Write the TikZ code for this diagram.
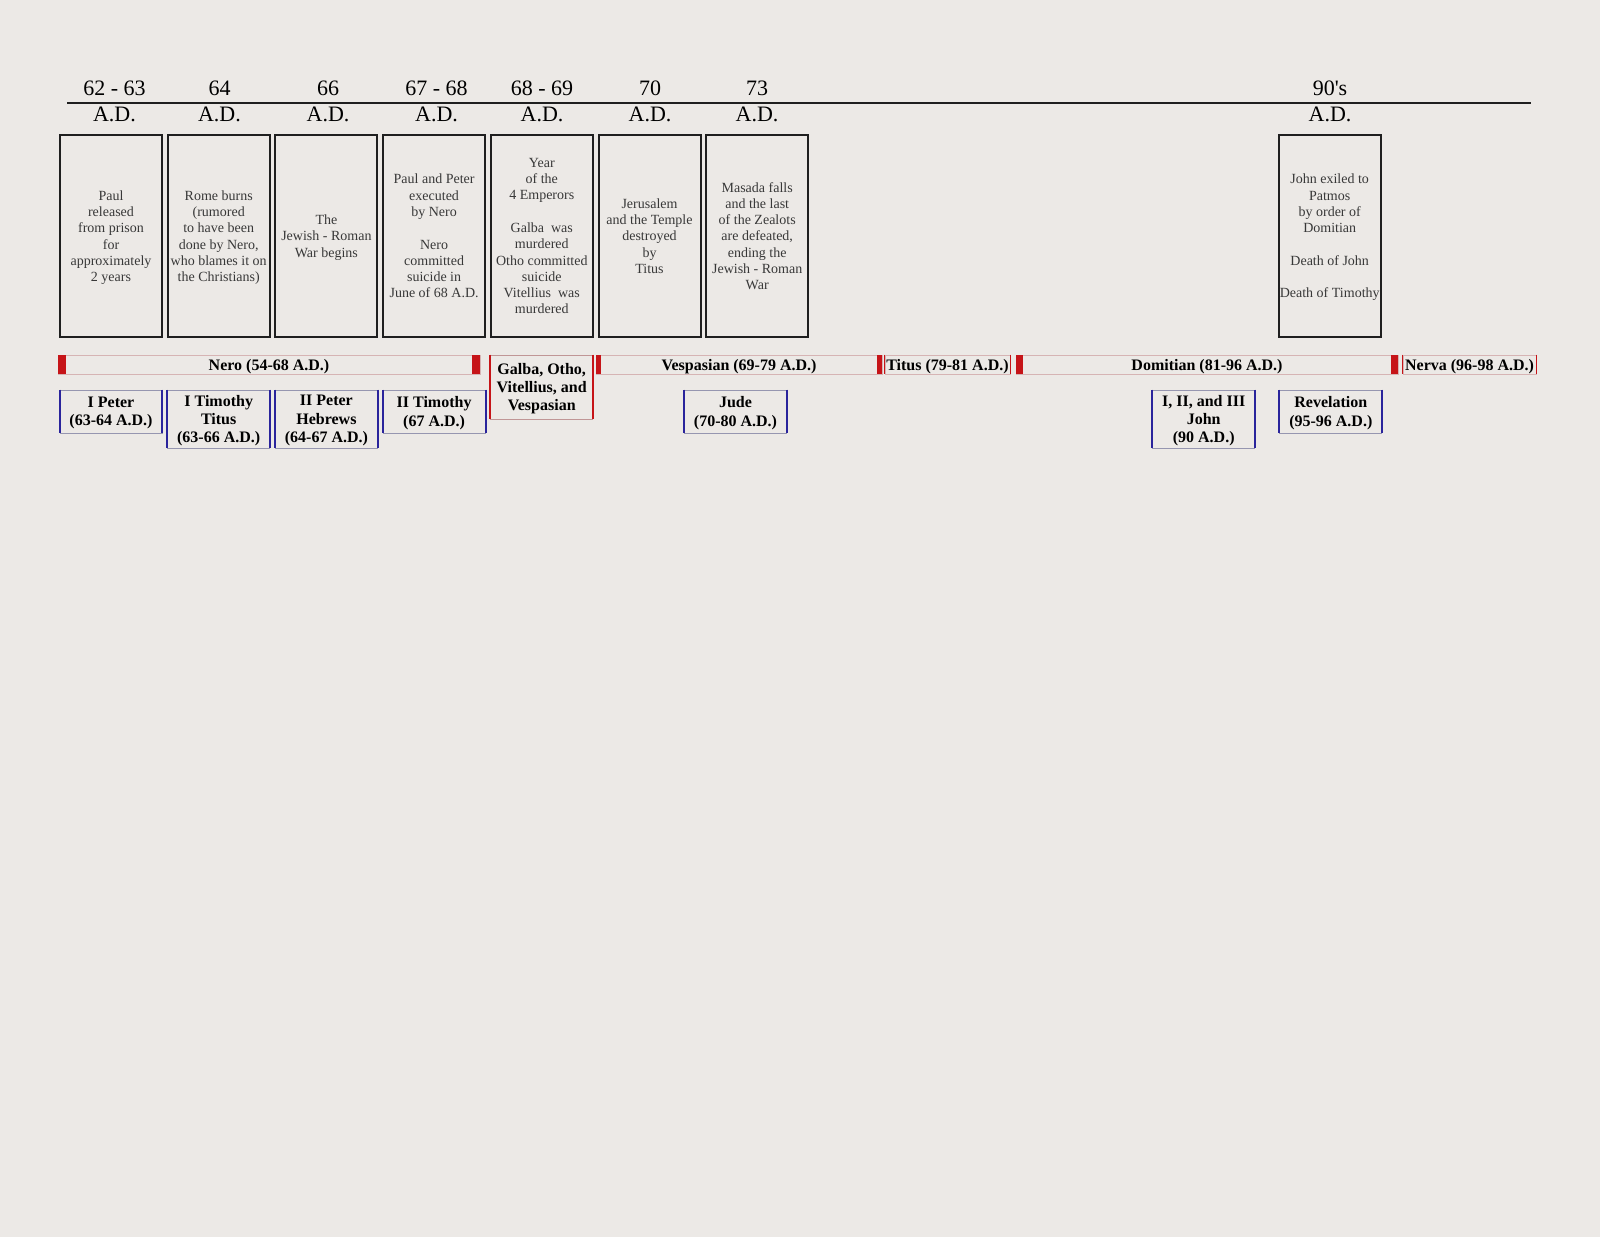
\documentclass[tikz,border=0pt]{standalone}
\usepackage{fontspec}
\setmainfont{Liberation Serif}
\usepackage{tikz}
\definecolor{paper}{RGB}{236,233,230}
\definecolor{emperor}{RGB}{198,20,24}
\definecolor{reignline}{RGB}{214,180,180}
\definecolor{bookside}{RGB}{42,36,156}
\definecolor{bookedge}{RGB}{150,150,176}
\definecolor{galbaedge}{RGB}{192,150,150}
\colorlet{eventline}{black!88}

\begin{document}
\begin{tikzpicture}[x=1pt,y=-1pt,
    year/.style={anchor=base,font=\fontsize{22}{26}\selectfont},
    event/.style={draw=eventline,line width=2,minimum width=102,minimum height=202,
      inner sep=0,align=center,text=black!78,text depth=-1,
      font=\fontsize{14}{16.3}\selectfont},
    reign/.style={draw=reignline,line width=0.8,minimum height=19,inner sep=0,
      text height=14,text depth=2,font=\bfseries\fontsize{16}{18.3}\selectfont},
    book/.style={draw=bookedge,line width=0.8,minimum width=102,inner sep=0,
      align=center,text depth=-2.5,font=\bfseries\fontsize{16}{18.3}\selectfont},
    side/.style={line width=2,draw=bookside}]

      \fill[paper] (0,0) rectangle (1600,1237);

      % dates above and below the time line
      \draw[line width=2.2,eventline] (67,103) -- (1531,103);
      \node[year] (y1) at (114.5,95) {62 - 63};
      \node[year] (a1) at (114.5,121) {A.D.};
      \node[year] (y2) at (219.5,95) {64};
      \node[year] (a2) at (219.5,121) {A.D.};
      \node[year] (y3) at (328,95) {66};
      \node[year] (a3) at (328,121) {A.D.};
      \node[year] (y4) at (436.5,95) {67 - 68};
      \node[year] (a4) at (436.5,121) {A.D.};
      \node[year] (y5) at (542,95) {68 - 69};
      \node[year] (a5) at (542,121) {A.D.};
      \node[year] (y6) at (650,95) {70};
      \node[year] (a6) at (650,121) {A.D.};
      \node[year] (y7) at (757,95) {73};
      \node[year] (a7) at (757,121) {A.D.};
      \node[year] (y8) at (1330,95) {90\textquotesingle s};
      \node[year] (a8) at (1330,121) {A.D.};

      % events
      \node[event] (e1) at (111,236) {Paul\\released\\from prison\\for\\approximately\\2 years};
      \node[event] (e2) at (218.7,236) {Rome burns\\(rumored\\to have been\\done by Nero,\\who blames it on\\the Christians)};
      \node[event] (e3) at (326.4,236) {The\\Jewish - Roman\\War begins};
      \node[event] (e4) at (434.1,236) {Paul and Peter\\executed\\by Nero\\[16.3pt]Nero\\committed\\suicide in\\June of 68 A.D.};
      \node[event] (e5) at (541.8,236) {Year\\of the\\4 Emperors\\[16.3pt]Galba\ \ was\\murdered\\Otho committed\\suicide\\Vitellius\ \ was\\murdered};
      \node[event] (e6) at (649.5,236) {Jerusalem\\and the Temple\\destroyed\\by\\Titus};
      \node[event] (e7) at (757.2,236) {Masada falls\\and the last\\of the Zealots\\are defeated,\\ending the\\Jewish - Roman\\War};
      \node[event] (e8) at (1329.7,236) {John exiled to\\Patmos\\by order of\\Domitian\\[16.3pt]Death of John\\[16.3pt]Death of Timothy};

      % emperors
      \node[reign,minimum width=422] (nero) at (269,364.5) {Nero (54-68 A.D.)};
      \fill[emperor] (nero.north west) rectangle ([xshift=8]nero.south west);
      \fill[emperor] (nero.north east) rectangle ([xshift=-8]nero.south east);

      \node[draw=galbaedge,line width=0.8,minimum width=102,minimum height=64,inner sep=0,
        align=center,text depth=-0.5,font=\bfseries\fontsize{16}{18.3}\selectfont] (galba) at (541.7,387)
        {Galba, Otho,\\Vitellius, and\\Vespasian};
      \draw[line width=2,emperor] (galba.north west) -- (galba.south west)
        (galba.north east) -- (galba.south east);

      \node[reign,minimum width=286] (vesp) at (739,364.5) {Vespasian (69-79 A.D.)};
      \fill[emperor] (vesp.north west) rectangle ([xshift=5]vesp.south west);
      \fill[emperor] (vesp.north east) rectangle ([xshift=-5]vesp.south east);

      \node[reign,minimum width=125] (titus) at (947.5,364.5) {Titus (79-81 A.D.)};
      \draw[line width=1.5,emperor] (titus.north west) -- (titus.south west)
        (titus.north east) -- (titus.south east);

      \node[reign,minimum width=382] (domit) at (1207,364.5) {Domitian (81-96 A.D.)};
      \fill[emperor] (domit.north west) rectangle ([xshift=7]domit.south west);
      \fill[emperor] (domit.north east) rectangle ([xshift=-7]domit.south east);

      \node[reign,minimum width=133] (nerva) at (1469.5,364.5) {Nerva (96-98 A.D.)};
      \draw[line width=1.5,emperor] (nerva.north west) -- (nerva.south west)
        (nerva.north east) -- (nerva.south east);

      % books
      \node[book,minimum height=43] (ipet) at (111,411.5) {I Peter\\(63-64 A.D.)};
      \draw[side] (ipet.north west) -- (ipet.south west) (ipet.north east) -- (ipet.south east);

      \node[book,minimum height=58] (itim) at (218.7,419) {I Timothy\\Titus\\(63-66 A.D.)};
      \draw[side] (itim.north west) -- (itim.south west) (itim.north east) -- (itim.south east);

      \node[book,minimum height=58] (iipet) at (326.4,419) {II Peter\\Hebrews\\(64-67 A.D.)};
      \draw[side] (iipet.north west) -- (iipet.south west) (iipet.north east) -- (iipet.south east);

      \node[book,minimum height=43] (iitim) at (434.1,411.5) {II Timothy\\(67 A.D.)};
      \draw[side] (iitim.north west) -- (iitim.south west) (iitim.north east) -- (iitim.south east);

      \node[book,minimum height=43] (jude) at (735.5,411.5) {Jude\\(70-80 A.D.)};
      \draw[side] (jude.north west) -- (jude.south west) (jude.north east) -- (jude.south east);

      \node[book,minimum height=58] (john) at (1203.7,419) {I, II, and III\\John\\(90 A.D.)};
      \draw[side] (john.north west) -- (john.south west) (john.north east) -- (john.south east);

      \node[book,minimum height=43] (rev) at (1330.8,411.5) {Revelation\\(95-96 A.D.)};
      \draw[side] (rev.north west) -- (rev.south west) (rev.north east) -- (rev.south east);

\end{tikzpicture}
\end{document}
